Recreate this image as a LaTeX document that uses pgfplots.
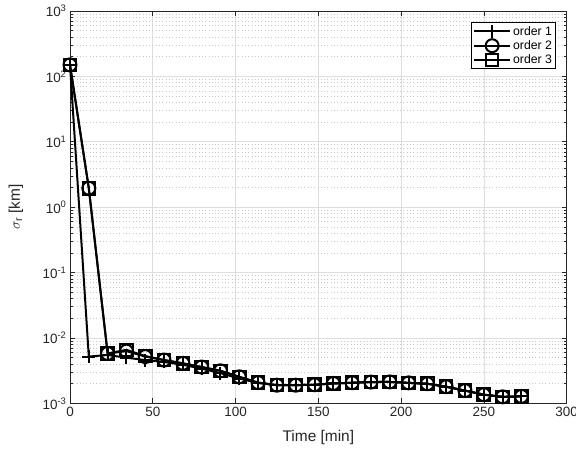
\documentclass[border=0pt]{standalone}
\usepackage{pgfplots}
\pgfplotsset{compat=1.18}
\usepackage{fontspec}
\setmainfont{Liberation Sans}
\definecolor{axc}{RGB}{38,38,38}
\definecolor{majg}{RGB}{222,222,222}
\definecolor{ming}{RGB}{200,200,200}
\pgfplotstableread{
t      o1       o2       o3
0      150      150      150
11.36  5.2e-3   1.95     1.95
22.72  5.5e-3   5.8e-3   5.8e-3
34.08  5.0e-3   6.3e-3   6.6e-3
45.44  4.6e-3   5.2e-3   5.3e-3
56.80  4.3e-3   4.6e-3   4.6e-3
68.16  3.9e-3   4.1e-3   4.1e-3
79.52  3.4e-3   3.6e-3   3.6e-3
90.88  2.9e-3   3.15e-3  3.15e-3
102.24 2.4e-3   2.55e-3  2.55e-3
113.60 2.05e-3  2.08e-3  2.08e-3
124.96 1.9e-3   1.9e-3   1.9e-3
136.32 1.9e-3   1.9e-3   1.9e-3
147.68 1.93e-3  1.93e-3  1.93e-3
159.04 2.02e-3  2.02e-3  2.02e-3
170.40 2.07e-3  2.07e-3  2.07e-3
181.76 2.12e-3  2.12e-3  2.12e-3
193.12 2.13e-3  2.13e-3  2.13e-3
204.48 2.06e-3  2.06e-3  2.06e-3
215.84 2.0e-3   2.0e-3   2.0e-3
227.20 1.8e-3   1.8e-3   1.8e-3
238.56 1.57e-3  1.57e-3  1.57e-3
249.92 1.36e-3  1.36e-3  1.36e-3
261.28 1.26e-3  1.26e-3  1.26e-3
272.64 1.28e-3  1.28e-3  1.28e-3
}\datatable
\begin{document}
\begin{tikzpicture}
\begin{axis}[
  name=ax,
  scale only axis,
  width=496.7bp, height=392.4bp,
  xmin=0, xmax=300,
  ymode=log, ymin=1e-3, ymax=1e3,
  xtick={0,50,100,150,200,250,300},
  ytick={1e-3,1e-2,1e-1,1,1e1,1e2,1e3},
  yticklabels={10\textsuperscript{-3},10\textsuperscript{-2},10\textsuperscript{-1},10\textsuperscript{0},10\textsuperscript{1},10\textsuperscript{2},10\textsuperscript{3}},
  xticklabel style={/pgf/number format/assume math mode=true},
  grid=both,
  major grid style={color=majg, line width=0.6bp},
  minor grid style={color=ming, line width=0.6bp, dash pattern=on 0.7bp off 2.6bp},
  tick align=inside,
  major tick length=5bp, minor tick length=3bp,
  axis line style={axc, line width=0.7bp},
  tick style={axc, line width=0.6bp},
  ticklabel style={font=\fontsize{13.5}{14}\selectfont, text=axc},
  xlabel={Time [min]},
  ylabel={$\sigma_{\mathrm{r}}$ [km]},
  label style={font=\fontsize{15.5}{16}\selectfont, text=axc},
  xlabel style={at={(axis description cs:0.5,-0.088)}, anchor=center},
  ylabel style={at={(axis description cs:-0.1087,0.5)}, anchor=center},
  clip=false,
  legend style={at={(0.978,0.971)}, anchor=north east, draw=black, line width=0.6bp,
    font=\fontsize{12.3}{13}\selectfont, inner sep=1.5bp, row sep=0bp,
    cells={anchor=west}},
  legend image code/.code={\draw[mark repeat=2,mark phase=2] plot coordinates {(0bp,0bp)(18bp,0bp)(36bp,0bp)};},
]
\addplot[black, line width=2bp, mark=+, mark size=6.5bp, mark options={line width=2bp}] table[x=t,y=o1] {\datatable};
\addlegendentry{order 1}
\addplot[black, line width=2bp, mark=o, mark size=6.5bp, mark options={line width=2bp}] table[x=t,y=o2] {\datatable};
\addlegendentry{order 2}
\addplot[black, line width=2bp, mark=square, mark size=6.3bp, mark options={line width=2bp}] table[x=t,y=o3] {\datatable};
\addlegendentry{order 3}
\end{axis}
\path (ax.south west) ++(-70bp,-47.6bp) coordinate (bl);
\path (ax.north east) ++(9.3bp,11bp) coordinate (tr);
\pgfresetboundingbox
\path (bl) rectangle (tr);
\end{tikzpicture}
\end{document}
